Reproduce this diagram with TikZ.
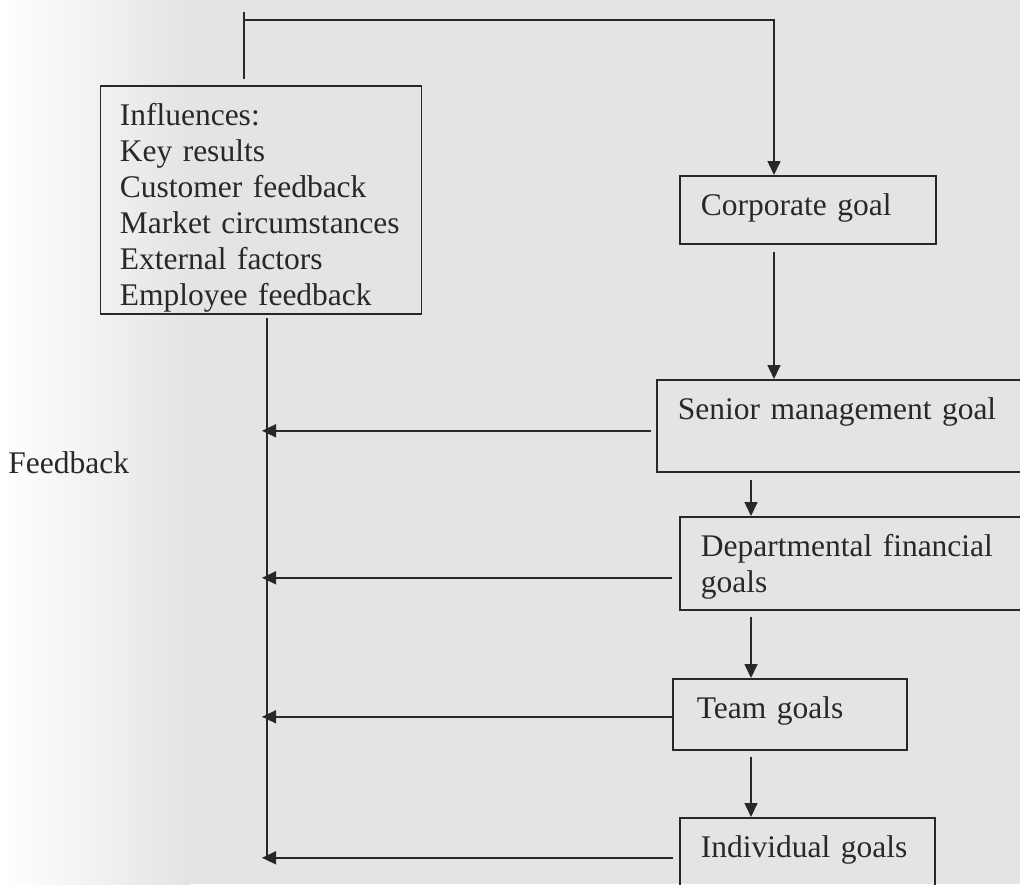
\documentclass[tikz,border=0pt]{standalone}
\usepackage{fontspec}
\setmainfont{Liberation Serif}
\usetikzlibrary{arrows.meta}
\definecolor{paper}{RGB}{228,228,228}
\definecolor{ink}{RGB}{40,40,40}

\begin{document}
\begin{tikzpicture}[x=0.5pt,y=-0.5pt,
  goalbox/.style={draw=ink, text=ink, line width=0.8pt, anchor=north west,
    inner xsep=10.5pt, inner ysep=0pt, text height=20pt,
    font=\fontsize{15.75pt}{18pt}\selectfont},
  link/.style={draw=ink, line width=0.8pt},
  arrow/.style={link, -{Triangle[length=7pt,width=6.5pt]}}]
% Background
\useasboundingbox (0,0) rectangle (1020,884);
\fill[paper] (0,0) rectangle (1020,884);
\shade[left color=white, right color=paper] (0,0) rectangle (190,884);
% Boxes
\node[goalbox, inner xsep=9.75pt, text width=141pt, text depth=94pt] (infl) at (99.5,85)
  {Influences:\\Key results\\Customer feedback\\Market circumstances\\External factors\\Employee feedback};
\node[goalbox, text width=107pt, text depth=14pt] (corp) at (679,175) {Corporate goal};
\node[goalbox, text width=170pt, text depth=26pt] (senior) at (656,379) {Senior management goal};
\node[goalbox, text width=170pt, text depth=26.5pt] (dept) at (679,516)
  {\parbox[t]{147pt}{\hyphenpenalty=10000 Departmental financial goals}};
\node[goalbox, inner xsep=12pt, text width=93pt, text depth=15.5pt] (team) at (672,678) {Team goals};
\node[goalbox, text width=106.5pt, text depth=22pt] (indiv) at (679,817) {Individual goals};
% Label
\node[anchor=base west, inner sep=0pt, text=ink, font=\fontsize{15.75pt}{18pt}\selectfont] (fblabel) at (8,473) {Feedback};
% Helper points
\coordinate (lt) at (244,12);
\coordinate (ltb) at (244,79);
\coordinate (rt) at (774,20);
\coordinate (mid) at (751,0);
\coordinate (fb) at (267,318);
\coordinate (fbend) at (267,857);
% Influences to corporate goal
\draw[link] (ltb) -- (lt);
\draw[arrow] (lt |- rt) -- (rt) -- (corp.north -| rt);
% Goal cascade
\draw[arrow, shorten <=3.5pt] (corp.south -| rt) -- (senior.north -| rt);
\draw[arrow, shorten <=3.5pt] (senior.south -| mid) -- (dept.north -| mid);
\draw[arrow, shorten <=3pt] (dept.south -| mid) -- (team.north -| mid);
\draw[arrow, shorten <=3pt] (team.south -| mid) -- (indiv.north -| mid);
% Feedback line
\draw[link] (fb) -- (fbend);
\draw[arrow, shorten >=-2.5pt] ([xshift=-2.5pt,yshift=-2.5pt]senior.west) -- ([yshift=-2.5pt]senior.west -| fb);
\draw[arrow, shorten >=-2.5pt] ([xshift=-3.5pt,yshift=-7.25pt]dept.west) -- ([yshift=-7.25pt]dept.west -| fb);
\draw[arrow, shorten >=-2.5pt] ([yshift=-1.25pt]team.west) -- ([yshift=-1.25pt]team.west -| fb);
\draw[arrow, shorten >=-2.5pt] ([xshift=-3pt,yshift=1pt]indiv.west) -- ([yshift=1pt]indiv.west -| fb);
\end{tikzpicture}
\end{document}
